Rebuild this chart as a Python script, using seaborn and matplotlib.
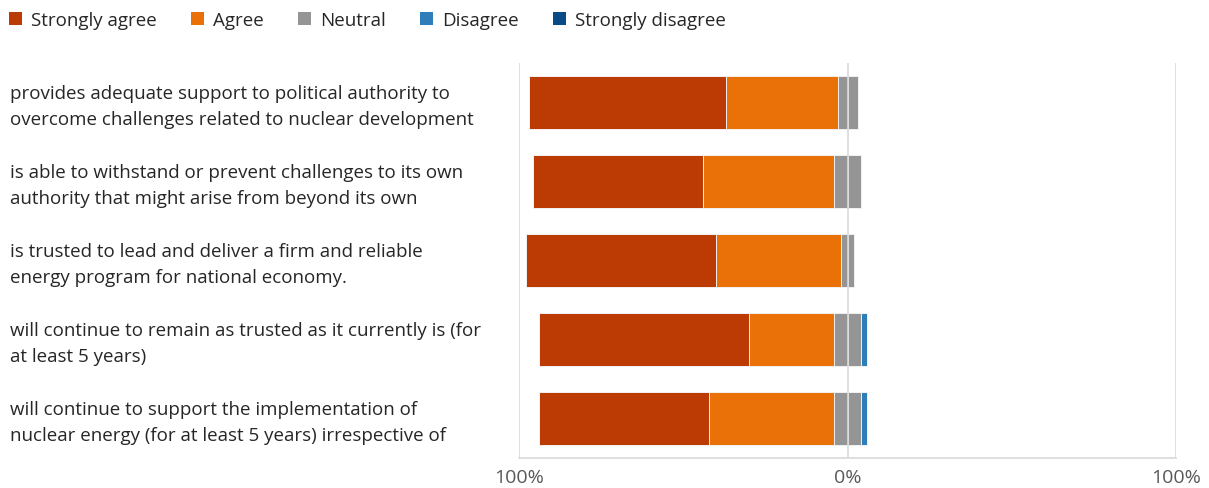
import numpy as np
import pandas as pd
import matplotlib
matplotlib.use("Agg")
import matplotlib.pyplot as plt
import matplotlib.transforms as mtransforms
from matplotlib.patches import Patch
import seaborn as sns

STATEMENTS = [
    "provides adequate support to political authority to\novercome challenges related to nuclear development",
    "is able to withstand or prevent challenges to its own\nauthority that might arise from beyond its own",
    "is trusted to lead and deliver a firm and reliable\nenergy program for national economy.",
    "will continue to remain as trusted as it currently is (for\nat least 5 years)",
    "will continue to support the implementation of\nnuclear energy (for at least 5 years) irrespective of",
]
STRONGLY_AGREE = [60.0, 51.8, 57.9, 63.7, 51.7]
AGREE = [33.9, 40.0, 38.1, 26.1, 38.1]
NEUTRAL = [6.1, 8.1, 4.0, 8.1, 8.1]
DISAGREE = [0.0, 0.0, 0.0, 2.0, 2.0]
STRONGLY_DISAGREE = [0.0, 0.0, 0.0, 0.0, 0.0]

LEVELS = ["Strongly agree", "Agree", "Neutral", "Disagree", "Strongly disagree"]
PALETTE = {
    "Strongly agree": "#BC3A03",
    "Agree": "#EA7107",
    "Neutral": "#959595",
    "Disagree": "#2F7EBA",
    "Strongly disagree": "#0A4B86",
}

sns.set_theme(style="white")
plt.rcParams["font.family"] = ["Open Sans", "DejaVu Sans"]

df = pd.DataFrame({
    "statement": STATEMENTS,
    "sa": STRONGLY_AGREE, "a": AGREE, "n": NEUTRAL,
    "d": DISAGREE, "sd": STRONGLY_DISAGREE,
})
# diverging stack: neutral centred on zero, agree to the left, disagree to the right
df["half_n"] = df["n"] / 2
df["left_sa"] = -(df["half_n"] + df["a"] + df["sa"]) / 100
df["left_a"] = -(df["half_n"] + df["a"]) / 100
df["left_n"] = -df["half_n"] / 100
df["right_n"] = df["half_n"] / 100
df["right_d"] = (df["half_n"] + df["d"]) / 100
df["right_sd"] = (df["half_n"] + df["d"] + df["sd"]) / 100

fig = plt.figure(figsize=(12.09, 4.89), dpi=100)
ax = fig.add_axes([0.4295, 0.0607, 0.5432, 0.8084])

layers = [
    ("left_sa", "Strongly agree"),
    ("left_a", "Agree"),
    ("left_n", "Neutral"),
    ("right_sd", "Strongly disagree"),
    ("right_d", "Disagree"),
    ("right_n", "Neutral"),
]
for col, level in layers:
    sns.barplot(
        data=df, x=col, y="statement", orient="h",
        color=PALETTE[level], saturation=1, width=0.675,
        edgecolor="#f2f2f2", linewidth=0.7, ax=ax, zorder=2,
    )

ax.set_xlim(-1, 1)
ax.set_ylim(len(STATEMENTS) - 0.5, -0.5)
for xv in (-1, 0, 1):
    ax.axvline(xv, color="#d9d9d9", lw=1.2, zorder=3)
ax.set_xticks([-1, 0, 1])
ax.set_xticklabels(["100%", "0%", "100%"], color="#595959", fontsize=14)
ax.tick_params(axis="x", length=0, pad=7)
ax.set_yticks(range(len(STATEMENTS)))
ax.set_yticklabels([])
ax.tick_params(axis="y", length=0)
ax.set_xlabel("")
ax.set_ylabel("")
sns.despine(ax=ax, top=True, right=True, left=True, bottom=False)
ax.spines["bottom"].set_color("#d9d9d9")
ax.spines["bottom"].set_linewidth(1.2)

trans = mtransforms.blended_transform_factory(fig.transFigure, ax.transData)
for i, s in enumerate(STATEMENTS):
    ax.text(10 / 1209, i + 0.04, s, transform=trans, ha="left", va="center",
            fontsize=13.5, color="#262626", linespacing=1.6)

handles = [Patch(facecolor=PALETTE[l], edgecolor="none") for l in LEVELS]
fig.legend(handles, LEVELS, loc="upper left", bbox_to_anchor=(-1 / 1209, 0.996),
           ncol=5, frameon=False, fontsize=13.5, handlelength=0.7,
           handleheight=0.7, handletextpad=0.45, columnspacing=1.85,
           borderaxespad=0.15, labelcolor="#262626")

fig.savefig("out.png", dpi=100)
